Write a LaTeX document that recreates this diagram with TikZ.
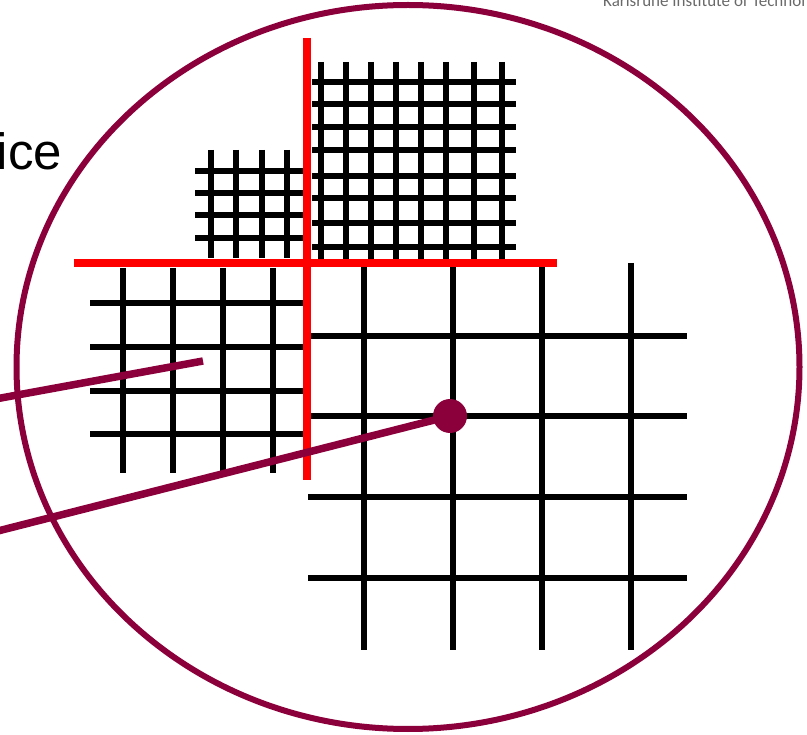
\documentclass[tikz,border=0pt]{standalone}
\usepackage{fontspec}
\setmainfont{Liberation Sans}
\newfontfamily\kitfont{Carlito}
\usetikzlibrary{positioning}
\definecolor{kitmaroon}{RGB}{139, 0, 58}
\definecolor{kitgray}{RGB}{105, 105, 105}

\begin{document}
\begin{tikzpicture}[x=1pt, y=-1pt,
        gridln/.style={line width=6pt, black},
        cutln/.style={line width=7.5pt, red},
        pointer/.style={line width=7.5pt, kitmaroon},
        lens/.style={line width=6pt, kitmaroon}
    ]
    \useasboundingbox (0,0) rectangle (807,735);

    % === Header text (cut at the top edge) ===
    \node[anchor=base west, inner sep=0pt, text=kitgray,
          font=\kitfont\fontsize{17}{20}\selectfont] (kit) at (603, 7)
        {Karlsruhe Institute of Technol};

    % === Label, cut at the left edge ===
    \node[anchor=base west, inner sep=0pt,
          font=\fontsize{51}{60}\selectfont] (lbl) at (-3.5, 170) {ice};

    % === Fine grid, top right ===
    \foreach \gx in {321, 346, 371, 396, 421, 446, 474, 502}
        \draw[gridln] (\gx, 62) -- (\gx, 260);
    \foreach \gy in {82, 104, 127, 150, 176, 198, 223, 247}
        \draw[gridln] (312, \gy) -- (516, \gy);

    % === Fine grid, top left ===
    \foreach \gx in {211, 236, 262, 287}
        \draw[gridln] (\gx, 150) -- (\gx, 258);
    \foreach \gy in {171, 193, 215, 238}
        \draw[gridln] (195, \gy) -- (303, \gy);

    % === Medium grid, left ===
    \foreach \gx in {123, 173, 223, 273}
        \draw[gridln] (\gx, 268) -- (\gx, 473);
    \foreach \gy in {303, 347, 391, 434}
        \draw[gridln] (90, \gy) -- (305, \gy);

    % === Coarse grid, bottom right ===
    \foreach \gx in {364, 453, 542, 631}
        \draw[gridln] (\gx, 263) -- (\gx, 650);
    \foreach \gy in {336, 416, 497, 578}
        \draw[gridln] (308, \gy) -- (687, \gy);

    % === Red cut lines ===
    \coordinate (cutT) at (307, 38);
    \coordinate (cutB) at (307, 480);
    \coordinate (cutL) at (74, 263);
    \coordinate (cutR) at (557, 263);
    \draw[cutln] (cutT) -- (cutB);
    \draw[cutln] (cutL) -- (cutR);

    % === Lens ===
    \draw[lens] (408, 367) ellipse [x radius=391.5, y radius=362];

    % === Pointers ===
    \node[circle, fill=kitmaroon, minimum size=34pt, inner sep=0pt] (pt) at (450, 416) {};
    \coordinate (tipA) at (203, 361);
    \coordinate (endA) at (-10, 400);
    \coordinate (endB) at (-10, 533);
    \draw[pointer] (tipA) -- (endA);
    \draw[pointer] (pt.center) -- (endB);

\end{tikzpicture}
\end{document}
